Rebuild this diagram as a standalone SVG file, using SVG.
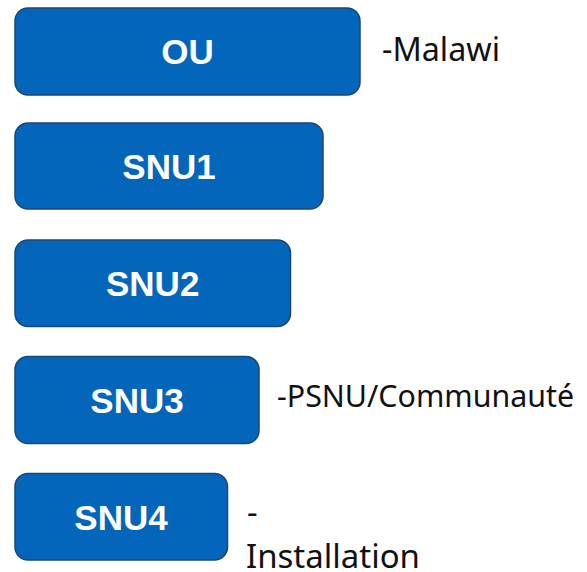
<svg xmlns="http://www.w3.org/2000/svg" width="587" height="572" viewBox="0 0 587 572">
  <style>
    .box { fill: #0466BA; stroke: #1A4579; stroke-width: 1.5; }
    .name { font-family: "Liberation Sans", Arial, sans-serif; font-weight: bold; font-size: 35px; fill: #FFFFFF; text-anchor: middle; }
    .lbl { font-family: "Noto Sans", "Open Sans", sans-serif; font-size: 33px; fill: #111111; }
  </style>
  <rect width="587" height="572" fill="#FFFFFF"/>
  <g id="connectors"></g>
  <g id="node-ou">
    <rect class="box" x="15" y="8" width="345" height="87" rx="13" ry="13"/>
    <text class="name" x="187.5" y="64">OU</text>
    <text class="lbl" x="382" y="61" textLength="118" lengthAdjust="spacingAndGlyphs">-Malawi</text>
  </g>
  <g id="node-snu1">
    <rect class="box" x="15" y="123" width="308" height="86" rx="13" ry="13"/>
    <text class="name" x="169" y="179">SNU1</text>
  </g>
  <g id="node-snu2">
    <rect class="box" x="15" y="240" width="275.5" height="86.5" rx="13" ry="13"/>
    <text class="name" x="152.7" y="296">SNU2</text>
  </g>
  <g id="node-snu3">
    <rect class="box" x="15" y="356.5" width="244" height="87" rx="13" ry="13"/>
    <text class="name" x="137" y="412.5">SNU3</text>
    <text class="lbl" x="277" y="407" style="font-size:31.5px" textLength="297" lengthAdjust="spacingAndGlyphs">-PSNU/Communauté</text>
  </g>
  <g id="node-snu4">
    <rect class="box" x="15" y="473.5" width="212.5" height="86.5" rx="13" ry="13"/>
    <text class="name" x="121" y="530">SNU4</text>
    <text class="lbl" x="247" y="524">-</text>
    <text class="lbl" x="246" y="568" textLength="174" lengthAdjust="spacingAndGlyphs">Installation</text>
  </g>
</svg>
